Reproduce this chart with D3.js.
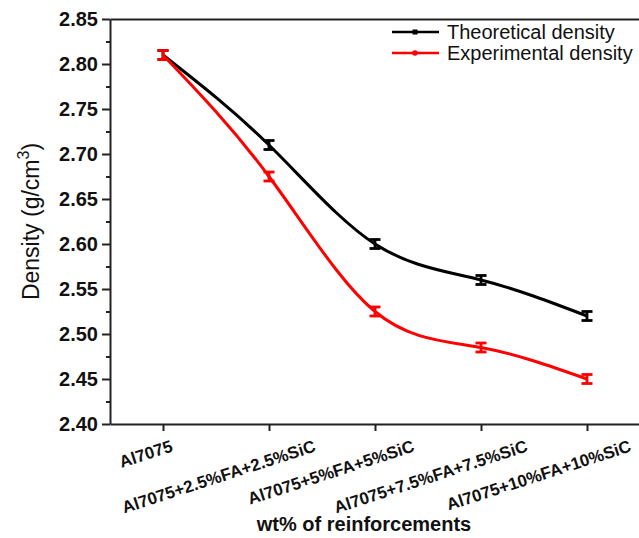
<!DOCTYPE html>
<html><head><meta charset="utf-8">
<script src="https://cdn.jsdelivr.net/npm/d3@7/dist/d3.min.js"></script>
<style>body{margin:0;background:#fff} svg{display:block}</style>
</head><body><svg id="c" width="639" height="538"></svg>
<script>
const categories = ["Al7075","Al7075+2.5%FA+2.5%SiC","Al7075+5%FA+5%SiC","Al7075+7.5%FA+7.5%SiC","Al7075+10%FA+10%SiC"];
const theoretical = [2.81, 2.71, 2.60, 2.56, 2.52];
const theoreticalErr = [0.005, 0.005, 0.005, 0.005, 0.005];
const experimental = [2.81, 2.675, 2.525, 2.485, 2.45];
const experimentalErr = [0.005, 0.005, 0.005, 0.005, 0.005];
const yTicks = [2.40, 2.45, 2.50, 2.55, 2.60, 2.65, 2.70, 2.75, 2.80, 2.85];
const yMinorTicks = [2.425, 2.475, 2.525, 2.575, 2.625, 2.675, 2.725, 2.775, 2.825];
const seriesNames = ["Theoretical density", "Experimental density"];
const seriesColors = ["#000000", "#ff0000"];

(function () {
const FONT = "'Liberation Sans', Arial, Helvetica, sans-serif";
const svg = d3.select("#c");
const pL = 110, pR = 640, pT = 19, pB = 424;

const x = d3.scalePoint().domain(categories).range([pL, pR]).padding(0.5);
const y = d3.scaleLinear().domain([2.40, 2.85]).range([pB, pT]);

const axisColor = "#222";
const axisW = 2;

svg.append("g").attr("transform", `translate(0,${pT})`)
  .call(d3.axisTop(x).tickValues([]).tickSizeOuter(0));
const gYm = svg.append("g").attr("transform", `translate(${pL},0)`)
  .call(d3.axisLeft(y).tickValues(yMinorTicks).tickSize(4).tickFormat(""));
gYm.select(".domain").remove();
const gY = svg.append("g").attr("transform", `translate(${pL},0)`)
  .call(d3.axisLeft(y).tickValues(yTicks).tickSize(8).tickSizeOuter(0).tickPadding(4).tickFormat(d3.format(".2f")));
gY.selectAll("text").attr("font-family", FONT).attr("font-size", 20).attr("font-weight", "bold").attr("fill", "#111");
svg.append("g").attr("transform", `translate(0,${pB})`)
  .call(d3.axisBottom(x).tickSize(7).tickSizeOuter(0).tickFormat(""));

svg.selectAll(".domain, .tick line").attr("stroke", axisColor).attr("stroke-width", axisW);

const lab = svg.append("g");
categories.forEach(c => {
  const t = lab.append("text").text(c)
    .attr("font-family", FONT).attr("font-size", 17).attr("font-weight", "bold")
    .attr("fill", "#111").attr("text-anchor", "end");
  const L = t.node().getComputedTextLength();
  t.attr("transform", `translate(${x(c) + 0.25 * L - 3},451) rotate(-18)`);
});

svg.append("text").attr("x", 364).attr("y", 531)
  .attr("text-anchor", "middle").attr("font-family", FONT).attr("font-size", 20)
  .attr("font-weight", "bold").attr("fill", "#111").text("wt% of reinforcements");

const yt = svg.append("text").attr("transform", `translate(39,${(pT + pB) / 2}) rotate(-90)`)
  .attr("text-anchor", "middle").attr("font-family", FONT).attr("font-size", 23).attr("fill", "#111");
yt.append("tspan").text("Density (g/cm");
yt.append("tspan").text("3").attr("font-size", 16).attr("dy", -10);
yt.append("tspan").text(")").attr("dy", 10);

const series = [
  {name: seriesNames[0], color: seriesColors[0], vals: theoretical, err: theoreticalErr},
  {name: seriesNames[1], color: seriesColors[1], vals: experimental, err: experimentalErr}
];
const line = d3.line().x((d, i) => x(categories[i])).y(d => y(d)).curve(d3.curveNatural);
series.forEach(s => {
  svg.append("path").datum(s.vals).attr("d", line).attr("fill", "none")
    .attr("stroke", s.color).attr("stroke-width", 3);
  const g = svg.append("g").attr("stroke", s.color).attr("stroke-width", 2.8);
  s.vals.forEach((v, i) => {
    const cx = x(categories[i]);
    const y1 = y(v + s.err[i]), y2 = y(v - s.err[i]);
    g.append("line").attr("x1", cx).attr("x2", cx).attr("y1", y1).attr("y2", y2);
    g.append("line").attr("x1", cx - 5.5).attr("x2", cx + 5.5).attr("y1", y1).attr("y2", y1);
    g.append("line").attr("x1", cx - 5.5).attr("x2", cx + 5.5).attr("y1", y2).attr("y2", y2);
  });
});

const leg = svg.append("g");
series.forEach((s, i) => {
  const ly = 32 + i * 21;
  leg.append("line").attr("x1", 392).attr("x2", 439).attr("y1", ly).attr("y2", ly)
    .attr("stroke", s.color).attr("stroke-width", 2.5);
  if (i === 0) leg.append("rect").attr("x", 412.5).attr("y", ly - 2.5).attr("width", 5).attr("height", 5).attr("fill", s.color);
  else leg.append("circle").attr("cx", 415).attr("cy", ly).attr("r", 2.8).attr("fill", s.color);
  leg.append("text").attr("x", 447).attr("y", ly + 7).attr("font-family", FONT)
    .attr("font-size", 20).attr("fill", "#111").text(s.name);
});
})();
</script></body></html>
